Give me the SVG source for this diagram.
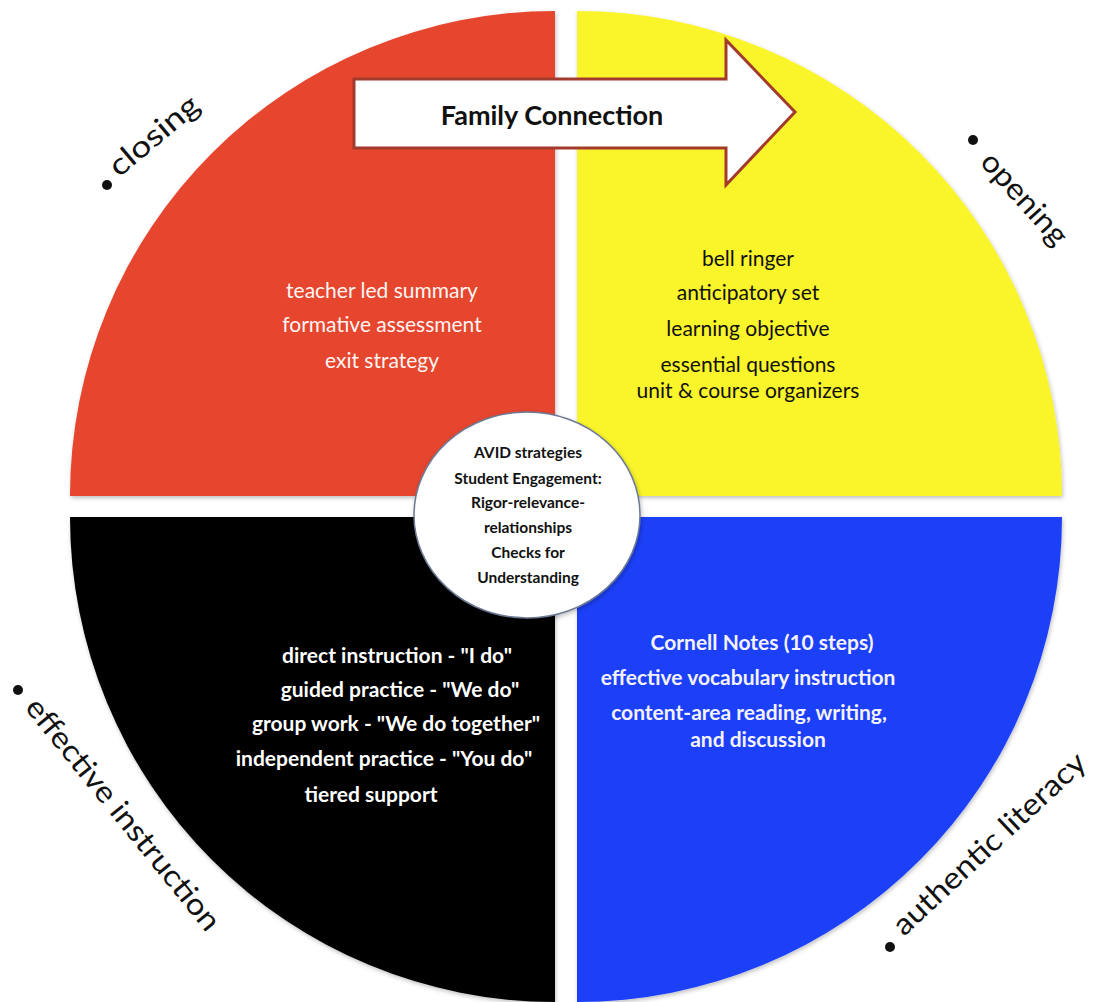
<svg xmlns="http://www.w3.org/2000/svg" width="1096" height="1002" viewBox="0 0 1096 1002">
<style>
.q{stroke:none}
.lbl{font-family:Lato,"Open Sans","Liberation Sans",sans-serif;font-size:30px;fill:#111}
.t{font-family:Lato,"Open Sans","Liberation Sans",sans-serif;font-size:21px;text-anchor:middle}
.w{fill:#fff6f4}
.wb{fill:#fff;font-weight:bold}
.bb{fill:#f4f2ff;font-weight:bold}
.k{fill:#111}
.c{font-family:Lato,"Open Sans","Liberation Sans",sans-serif;font-size:15.5px;font-weight:bold;text-anchor:middle;fill:#111}
</style>
<defs>
<filter id="sh" x="-5%" y="-5%" width="110%" height="110%">
<feDropShadow dx="1" dy="2" stdDeviation="2" flood-color="#000" flood-opacity="0.25"/>
</filter>
</defs>
<rect width="1096" height="1002" fill="#fff"/>
<g id="closing">
<path class="q" d="M555,496 L70,496 A485,485 0 0 1 555,11 Z" fill="#e6452f" filter="url(#sh)"/>
<text class="t w" x="382" y="298">teacher led summary</text>
<text class="t w" x="382" y="332">formative assessment</text>
<text class="t w" x="382" y="368">exit strategy</text>
<circle cx="107" cy="185" r="5" fill="#111"/>
<text class="lbl" transform="translate(119,178) rotate(-40)" textLength="108" lengthAdjust="spacingAndGlyphs">closing</text>
</g>
<g id="opening">
<path class="q" d="M577,496 L577,11 A485,485 0 0 1 1062,496 Z" fill="#faf52b" filter="url(#sh)"/>
<text class="t k" x="748" y="266">bell ringer</text>
<text class="t k" x="748" y="300">anticipatory set</text>
<text class="t k" x="748" y="336">learning objective</text>
<text class="t k" x="748" y="372">essential questions</text>
<text class="t k" x="748" y="398">unit &amp; course organizers</text>
<circle cx="973" cy="140" r="5" fill="#111"/>
<text class="lbl" transform="translate(979,163) rotate(48)" textLength="114" lengthAdjust="spacingAndGlyphs">opening</text>
</g>
<g id="effective-instruction">
<path class="q" d="M555,517 L555,1002 A485,485 0 0 1 70,517 Z" fill="#000" filter="url(#sh)"/>
<text class="t wb" x="397" y="663" font-size="21.5">direct instruction - "I do"</text>
<text class="t wb" x="400" y="697" font-size="21.5">guided practice - "We do"</text>
<text class="t wb" x="396" y="731" font-size="21.5">group work - "We do together"</text>
<text class="t wb" x="384" y="766" font-size="21.5">independent practice - "You do"</text>
<text class="t wb" x="371" y="802" font-size="21.5">tiered support</text>
<circle cx="18" cy="690" r="5" fill="#111"/>
<text class="lbl" transform="translate(24,708) rotate(51)" textLength="290" lengthAdjust="spacingAndGlyphs">effective instruction</text>
</g>
<g id="authentic-literacy">
<path class="q" d="M577,517 L1062,517 A485,485 0 0 1 577,1002 Z" fill="#1a40f8" filter="url(#sh)"/>
<text class="t bb" x="762" y="650">Cornell Notes (10 steps)</text>
<text class="t bb" x="748" y="685" font-size="22">effective vocabulary instruction</text>
<text class="t bb" x="749" y="720" font-size="21.5">content-area reading, writing,</text>
<text class="t bb" x="758" y="747" font-size="21.5">and discussion</text>
<circle cx="890" cy="947" r="5" fill="#111"/>
<text class="lbl" transform="translate(904,937) rotate(-43)" textLength="252" lengthAdjust="spacingAndGlyphs">authentic literacy</text>
</g>
<g id="family-connection">
<polygon points="354,79 726,79 726,40 795,112 726,185 726,148 354,148" fill="#fff" stroke="#a33b2c" stroke-width="3" stroke-linejoin="miter"/>
<text x="552" y="125" font-family="Lato,'Open Sans','Liberation Sans',sans-serif" font-size="27" font-weight="bold" text-anchor="middle" fill="#111">Family Connection</text>
</g>
<g id="center">
<ellipse cx="527" cy="515" rx="113" ry="103" fill="#fff" stroke="#6d7a94" stroke-width="1.5" filter="url(#sh)"/>
<text class="c" x="528" y="458">AVID strategies</text>
<text class="c" x="528" y="484">Student Engagement:</text>
<text class="c" x="528" y="508">Rigor-relevance-</text>
<text class="c" x="528" y="533">relationships</text>
<text class="c" x="528" y="558">Checks for</text>
<text class="c" x="528" y="583">Understanding</text>
</g>
<g id="connectors"></g>
</svg>
